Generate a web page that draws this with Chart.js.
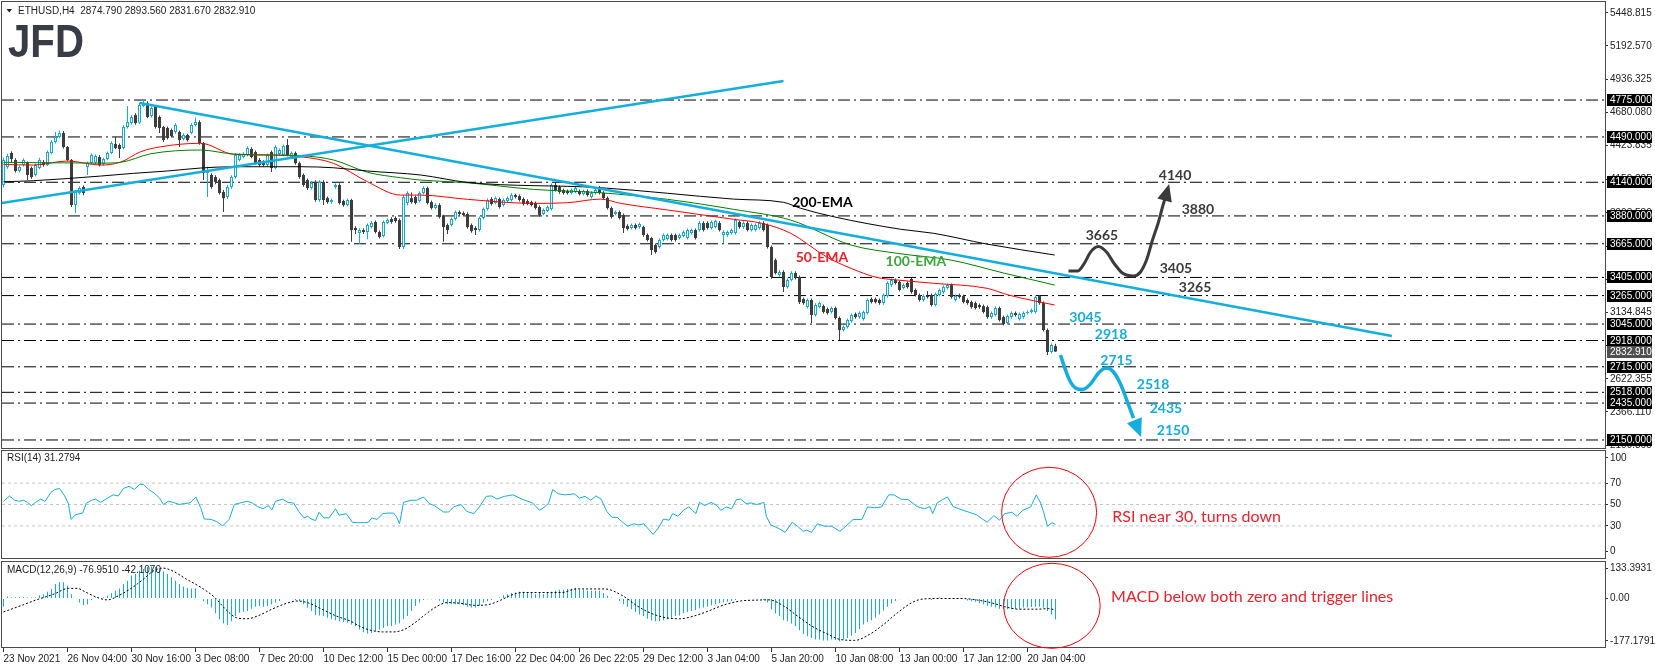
<!DOCTYPE html>
<html lang="en">
<head>
<meta charset="UTF-8" />
<title>ETHUSD H4</title>
<script src="https://cdn.jsdelivr.net/npm/chart.js@4"></script>
<style>
  html, body { margin: 0; padding: 0; background: #fff; }
  #board { position: relative; width: 1655px; height: 668px; overflow: hidden; background: #fff; }
  #board canvas { position: absolute; left: 0; }
</style>
</head>
<body>
<div id="board">
  <canvas id="priceChart" width="1655" height="450" style="top:0;width:1655px;height:450px"></canvas>
  <canvas id="rsiChart" width="1655" height="110" style="top:450px;width:1655px;height:110px"></canvas>
  <canvas id="macdChart" width="1655" height="108" style="top:560px;width:1655px;height:108px"></canvas>
</div>
<script>
// bar 0 = 23 Nov 2021 00:00, H4 bars, one date label every 16 bars
const dateLabels = ["23 Nov 2021", "26 Nov 04:00", "30 Nov 16:00", "3 Dec 08:00", "7 Dec 20:00",
  "10 Dec 12:00", "15 Dec 00:00", "17 Dec 16:00", "22 Dec 04:00", "26 Dec 22:05", "29 Dec 12:00",
  "3 Jan 04:00", "5 Jan 20:00", "10 Jan 08:00", "13 Jan 00:00", "17 Jan 12:00", "20 Jan 04:00"];

// [open, high, low, close]
const ohlc = [
[4119,4330,4100,4312],[4258,4360,4245,4343],[4366,4380,4288,4319],[4312,4325,4215,4227],[4227,4270,4215,4258],
[4273,4325,4262,4312],[4288,4300,4157,4196],[4250,4262,4168,4180],[4196,4285,4185,4273],[4250,4330,4240,4312],
[4296,4312,4260,4273],[4273,4385,4265,4373],[4366,4466,4355,4451],[4451,4528,4440,4489],[4489,4540,4480,4520],
[4520,4535,4400,4412],[4412,4420,4300,4312],[4312,4320,3949,3964],[3964,4080,3902,4065],[4057,4110,4045,4095],
[4103,4115,4040,4057],[4258,4300,4196,4288],[4288,4362,4280,4350],[4290,4355,4280,4343],[4335,4350,4262,4273],
[4281,4330,4270,4319],[4319,4378,4310,4366],[4366,4455,4358,4443],[4435,4489,4395,4404],[4428,4440,4327,4397],
[4404,4580,4395,4567],[4567,4729,4555,4605],[4597,4660,4585,4644],[4659,4672,4585,4597],[4600,4755,4590,4736],
[4729,4772,4720,4752],[4752,4765,4635,4644],[4651,4725,4640,4713],[4721,4730,4555,4567],[4644,4655,4520,4559],
[4567,4575,4450,4466],[4559,4570,4470,4482],[4543,4555,4485,4497],[4528,4595,4515,4582],[4528,4540,4412,4466],
[4474,4518,4462,4505],[4505,4515,4455,4466],[4520,4595,4510,4582],[4582,4640,4570,4605],[4605,4618,4430,4443],
[4443,4450,4157,4211],[4211,4260,4026,4234],[4196,4210,4090,4103],[4180,4195,4125,4142],[4157,4170,4045,4057],
[4065,4080,3910,4018],[4026,4118,4010,4103],[4103,4195,4090,4180],[4180,4365,4170,4350],[4312,4365,4300,4350],
[4335,4372,4325,4358],[4350,4418,4340,4404],[4397,4410,4325,4335],[4373,4385,4275,4288],[4312,4325,4260,4273],
[4296,4310,4260,4273],[4273,4362,4262,4350],[4373,4385,4219,4250],[4250,4425,4240,4412],[4358,4400,4345,4389],
[4350,4432,4340,4420],[4428,4474,4340,4350],[4335,4378,4325,4366],[4366,4378,4275,4288],[4288,4300,4168,4180],
[4196,4208,4105,4119],[4157,4170,4080,4095],[4095,4148,4085,4134],[4142,4155,3990,4003],[4003,4155,3990,4142],
[4142,4155,3964,4003],[4018,4030,3975,3987],[3987,4015,3975,4003],[4103,4130,4090,4119],[4119,4132,3968,3980],
[3995,4005,3950,3964],[3964,4015,3955,4003],[4003,4012,3680,3771],[3787,3800,3740,3771],[3748,3785,3663,3771],
[3771,3785,3740,3756],[3756,3822,3700,3810],[3795,3840,3785,3825],[3833,3845,3745,3756],[3756,3768,3705,3717],
[3725,3845,3715,3833],[3825,3862,3815,3848],[3856,3870,3820,3833],[3864,3878,3828,3840],[3848,3860,3625,3640],
[3640,4040,3625,4026],[3980,4070,3960,4057],[4018,4060,3975,3987],[4026,4038,3968,3980],[3995,4070,3985,4057],
[4057,4110,4045,4095],[4095,4108,3968,3980],[3987,4000,3930,3941],[3941,3978,3930,3964],[3964,3978,3860,3872],
[3879,3890,3680,3794],[3810,3822,3740,3771],[3810,3868,3800,3856],[3856,3922,3845,3910],[3910,3922,3885,3895],
[3902,3915,3875,3887],[3895,3908,3782,3794],[3810,3822,3750,3763],[3787,3800,3733,3771],[3771,3876,3760,3864],
[3864,3945,3852,3933],[3933,4015,3922,4003],[4011,4025,3960,3972],[3980,4030,3970,4018],[4011,4022,3938,3949],
[3964,4015,3952,4003],[3995,4030,3985,4018],[4003,4055,3992,4041],[4041,4052,4015,4026],[4033,4045,3992,4003],
[4011,4022,3960,3972],[3995,4008,3962,3972],[3987,3998,3952,3964],[3980,3992,3930,3941],[3949,3960,3875,3887],
[3895,3938,3885,3926],[3918,3960,3908,3949],[3933,4130,3922,4119],[4119,4134,4068,4080],[4103,4115,4052,4065],
[4080,4092,4045,4057],[4072,4085,4045,4057],[4057,4092,4045,4080],[4065,4108,4055,4095],[4072,4085,4038,4049],
[4049,4085,4038,4072],[4072,4085,4030,4041],[4026,4070,4015,4057],[4057,4092,4045,4080],[4095,4111,4045,4057],
[4057,4070,4008,4018],[4018,4030,3930,3941],[3941,3952,3860,3872],[3895,3922,3885,3910],[3910,3922,3852,3864],
[3887,3898,3748,3787],[3802,3815,3768,3779],[3787,3822,3775,3810],[3810,3822,3775,3787],[3794,3830,3782,3818],
[3794,3805,3720,3733],[3733,3745,3682,3694],[3709,3720,3578,3617],[3655,3668,3590,3601],[3640,3705,3628,3694],
[3694,3745,3682,3733],[3702,3745,3690,3733],[3733,3745,3682,3694],[3733,3745,3682,3694],[3709,3745,3698,3733],
[3725,3768,3715,3756],[3709,3783,3698,3771],[3748,3783,3737,3771],[3771,3783,3698,3709],[3771,3838,3760,3825],
[3825,3838,3760,3771],[3825,3838,3775,3787],[3787,3845,3775,3833],[3795,3852,3785,3840],[3825,3838,3760,3771],
[3733,3768,3670,3756],[3733,3768,3720,3756],[3748,3783,3737,3771],[3748,3860,3737,3848],[3833,3845,3782,3794],
[3794,3838,3782,3825],[3825,3838,3760,3771],[3771,3822,3760,3810],[3771,3822,3760,3810],[3787,3838,3775,3825],
[3825,3838,3760,3771],[3810,3822,3628,3640],[3640,3652,3395,3408],[3539,3552,3428,3439],[3424,3460,3412,3447],
[3447,3460,3292,3331],[3331,3398,3320,3385],[3385,3452,3375,3439],[3439,3452,3390,3401],[3408,3420,3200,3215],
[3238,3250,3195,3207],[3176,3243,3165,3231],[3231,3243,3053,3115],[3115,3205,3103,3192],[3176,3220,3165,3207],
[3184,3196,3126,3138],[3161,3173,3118,3130],[3138,3181,3126,3169],[3169,3181,3080,3092],[3092,3104,2922,2999],
[2999,3034,2987,3022],[3022,3088,3010,3076],[3068,3127,3056,3115],[3122,3134,3087,3099],[3099,3142,3087,3130],
[3084,3150,3072,3138],[3130,3243,3118,3231],[3238,3250,3203,3215],[3238,3250,3203,3215],[3231,3243,3195,3207],
[3207,3281,3195,3269],[3262,3374,3250,3362],[3346,3397,3334,3385],[3385,3397,3350,3362],[3370,3382,3296,3308],
[3323,3358,3311,3346],[3362,3374,3319,3331],[3393,3401,3280,3292],[3308,3320,3257,3269],[3269,3281,3219,3231],
[3231,3274,3219,3262],[3262,3300,3242,3254],[3269,3281,3180,3192],[3192,3289,3180,3277],[3269,3320,3257,3308],
[3292,3343,3280,3331],[3323,3358,3311,3346],[3346,3358,3242,3254],[3231,3274,3219,3262],[3269,3281,3242,3254],
[3262,3274,3203,3215],[3231,3243,3195,3207],[3215,3227,3164,3176],[3207,3219,3157,3169],[3192,3204,3164,3176],
[3184,3196,3126,3138],[3176,3188,3087,3099],[3099,3142,3087,3130],[3115,3181,3103,3169],[3169,3181,3064,3076],
[3099,3111,3033,3045],[3053,3119,3041,3107],[3099,3142,3087,3130],[3130,3142,3103,3115],[3084,3134,3072,3122],
[3099,3142,3087,3130],[3130,3150,3118,3138],[3138,3165,3126,3153],[3138,3266,3126,3254],[3262,3270,3195,3207],
[3207,3219,2987,2999],[2999,3011,2806,2829],[2829,2895,2817,2883],[2874.79,2893.56,2831.67,2832.91]
];

// moving averages: [bar, price]
const ema50 = [[0,4278],[7.5,4273],[16,4304],[24.3,4273],[29.3,4296],[34.3,4376],[39.3,4414],[49.3,4441],
  [57.5,4356],[66,4350],[74.3,4337],[82.5,4286],[91,4144],[99.3,4041],[104.3,4041],[116,4008],[132.5,3977],
  [141,3982],[149.3,4010],[154.3,3977],[166,3926],[182.5,3854],[189.6,3823],[196.8,3746],[205.7,3565],
  [211.9,3475],[218.2,3406],[223.5,3385],[232.5,3360],[245.9,3321],[251.3,3269],[262.8,3192]];
const ema100 = [[0,4294],[24.3,4288],[29.3,4294],[36.8,4360],[49.3,4389],[57.5,4358],[74.3,4345],[82.5,4312],
  [91,4217],[99.3,4175],[104.3,4157],[116,4136],[132.5,4085],[149.3,4059],[166,4008],[182.5,3931],[196.8,3848],
  [211.9,3655],[223.5,3591],[236.9,3539],[250.3,3437],[262.8,3346]];
const ema200 = [[0,4144],[7.5,4152],[24.3,4188],[32.5,4209],[41,4227],[49.3,4250],[57.5,4260],[74.3,4260],
  [82.5,4252],[91,4227],[104.3,4196],[116,4139],[149.3,4098],[166,4055],[182.5,4010],[195,3985],[199.3,3939],
  [207.5,3874],[224.3,3777],[232.5,3746],[245.8,3663],[262.8,3578]];

// horizontal support / resistance levels
const levels = [4775, 4490, 4140, 3880, 3665, 3405, 3265, 3045, 2918, 2715, 2518, 2435, 2150];
const lastPrice = 2832.910;
const priceTicks = [5448.815, 5192.570, 4936.325, 4680.080, 4423.835, 4159.825, 3903.580, 3647.335,
  3391.090, 3134.845, 2878.600, 2622.355, 2366.110, 2109.865];

// trendlines: [bar, price]
const risingLine = [[-0.4, 3980], [195, 4922]];
const fallingLine = [[34.1, 4752], [347.1, 2953]];

// projected paths
const bullPath = [[266.25,3454],[268.5,3454],[270.25,3516],[271.75,3601],[273.75,3644],[275.75,3601],
  [277.75,3509],[279.75,3439],[282.5,3416],[284.25,3447],[285.75,3539],[287.25,3694],[288.75,3833],
  [289.75,3949],[290.5,4026]];
const bullTip = [291.4, 4126];
const bearPath = [[264.25,2806],[265.25,2713],[266.5,2613],[268,2551],[269.75,2539],[271.75,2582],
  [273.75,2667],[275.75,2705],[277.5,2675],[279.25,2582],[281,2443],[282.5,2319]];
const bearTip = [284.4, 2173];

// target labels: [text, bar, price]
const upsideTargets = [["4140", 292.9, 4196], ["3880", 298.6, 3926], ["3665", 274.6, 3727],
  ["3405", 293.1, 3475], ["3265", 297.9, 3329]];
const downsideTargets = [["3045", 270.5, 3097], ["2918", 276.9, 2966], ["2715", 278.25, 2767],
  ["2518", 287.4, 2580], ["2435", 290.6, 2394], ["2150", 292.4, 2227]];
const emaTags = [["200-EMA", 204.75, 3987], ["100-EMA", 228.1, 3526], ["50-EMA", 204.6, 3557]];

// RSI(14): [bar, value]
const rsiPoints = [[0,53],[1.5,58],[2.8,54],[4,53],[5,54],[6,52],[7,49],[8,52],[9.3,55],[10.4,53],[11.8,61],
  [12.8,64],[14,65],[15.3,58],[16.2,51],[16.9,36],[18,40.5],[19.8,42],[20.7,51],[22,54],[23,55],[24.3,52],
  [26,56],[27.4,59],[28.7,58],[30,65],[31.4,67],[32.7,64],[34.1,69],[35.1,68.5],[36.3,64],[37.6,61],[39,56],
  [40,50],[41.2,53],[42.5,52],[43.9,50],[45.3,51],[46.6,51.4],[48.1,57],[49.3,47],[50.2,36.5],[51.9,36],
  [53.3,34],[54.8,30],[56.4,36],[57.7,50],[59.1,51.4],[60.9,53],[62.2,51.4],[63.5,48],[64.9,46],[66.2,49],
  [67.1,45],[68,53],[69.8,55],[71.1,52],[72.5,51.4],[73.8,43.6],[75.1,37.5],[76,39],[76.9,36.5],[78,35],
  [78.9,42.7],[80.1,37.5],[81.4,37.5],[83,46],[83.9,40],[85.7,41.5],[87.2,33.4],[88.5,33],[90.3,33],
  [91.2,33.4],[92.1,37.5],[93.4,36],[94.8,41.5],[96.1,42],[97.5,42],[98.2,39],[99,32],[100,52],[101.9,54],
  [103.3,54],[105,57],[106.4,51],[107.7,49],[110,43],[111.3,43],[112.6,48],[114.4,50],[115.8,43.6],
  [117.6,41.5],[119,48],[120.7,57.6],[122,58],[123.4,55],[125.2,57.6],[127.4,59],[129.6,55],[132.3,51.4],
  [134,44.6],[135.4,48],[136.3,51.4],[137.3,64],[138.7,60],[140.5,59],[142.7,60],[144,56],[145.4,57.6],
  [146.8,54],[148.1,58],[149.4,55],[150.8,43.6],[152.1,38],[153.4,38],[154.8,33.4],[156.1,29.7],[157.5,32],
  [158.8,31],[160.1,32],[161,28],[162.4,22],[163.7,28],[165,36.5],[166.4,35.3],[167.3,41.5],[168.6,39],
  [170,44.6],[171.3,47.7],[172.2,44.6],[173.1,41.5],[174,52],[175.3,49],[176.9,52],[178.4,49],[179.3,44.6],
  [180.7,47.7],[182,46],[183.2,54.5],[184.3,55],[185.6,51],[186.9,51.4],[188.3,50],[190.1,52],[190.7,39],
  [191.8,31],[193.6,28],[195.4,24],[197.2,33.4],[198.5,29.7],[199.9,25],[200.8,26],[202,24],[203.5,32],
  [205.2,29.7],[207,29.7],[209.1,25],[210.6,29.7],[212.4,36],[214.6,36],[216,47.7],[217.7,47],[219.5,47.7],
  [221.3,59],[222.6,59],[224.4,55],[226.2,54.5],[228.4,48],[230.3,46],[231.6,48],[232.3,41.5],[233.4,51.4],
  [234.7,54.5],[236,57],[237.4,48],[239.6,45],[243.2,40.5],[245.9,33.4],[247.6,39.6],[249,35.3],[250.3,41.5],
  [252.1,42.7],[253.4,39],[254.8,44.6],[256.8,47.7],[258.2,59],[259.3,51.4],[260.1,42],[261,29.7],[262.1,33],
  [263,31.3]];
const rsiLevels = [70, 50, 30];
const rsiAxis = [0, 30, 50, 70, 100];

// MACD(12,26,9): main line as histogram (one value per bar), signal as dotted line
const macdHist = [
-30,7,4,5,5,5,4,4,4,12, 16,25,35,53,59,59,47,16,-2,-15, -25,-21,-6,4,0,5,10,20,28,37,
53,65,84,90,102,108,115,117,115,108, 100,90,78,65,53,44,38,37,37,2, -10,-21,-33,-54,-76,-91,-97,-83,-64,-52,
-48,-46,-37,-30,-27,-30,-27,-21,-15,-9, -2,0,-2,-5,-9,-21,-33,-46,-60,-62, -64,-70,-76,-79,-83,-86,-89,-95,-101,-113,
-123,-128,-126,-120,-113,-107,-101,-101,-95,-90, -76,-64,-46,-27,-15,-5,-3,-3,-3,-8, -15,-21,-21,-21,-21,-25,-30,-33,-33,-27,
-15,-10,-5,0,4,12,16,20,22,25, 25,22,22,16,20,16,22,25,28,32, 32,35,37,39,32,32,28,28,28,28,
20,10,4,0,-9,-21,-30,-39,-49,-58, -64,-74,-80,-83,-83,-79,-76,-70,-64,-62, -54,-49,-46,-42,-36,-33,-30,-25,-21,-17,
-15,-12,-9,-5,-2,-2,-2,-2,0,-2, -5,-15,-40,-55,-64,-79,-83,-91,-101,-116, -130,-138,-144,-150,-150,-153,-153,-150,-152,-156,
-150,-144,-136,-126,-111,-95,-86,-79,-70,-58, -45,-30,-18,-9,-3,-2,1,-2,-2,0, -2,0,-5,2,4,2,0,0,0,-2,
-3,-7,-10,-12,-17,-21,-27,-30,-33,-37, -39,-39,-39,-37,-37,-33,-33,-31,-30,-30, -33,-46,-58,-77];
const macdSignal = [[0,-49],[4.2,-27],[8.2,-5],[12.6,16],[16.2,37],[18.4,37],[20.7,22],[23.4,4],[26,-5],
  [28.7,10],[32.3,41],[35,71],[37.6,102],[39.9,111],[42.1,102],[45.7,71],[49.3,41],[52.8,4],[55.5,-39],
  [58.2,-70],[60.9,-74],[63.5,-64],[67.1,-39],[70.7,-18],[73.4,-9],[76,-15],[79.6,-39],[83.2,-64],[86.8,-83],
  [89.4,-104],[92.1,-117],[94.8,-122],[97.5,-122],[100.2,-113],[102.8,-89],[105.5,-58],[108.2,-30],
  [110.9,-15],[114.4,-18],[118,-25],[121.6,-21],[124.3,-6],[126.9,12],[129.6,22],[133.2,22],[136.8,22],
  [139.6,22],[143.2,35],[150.3,35],[154.8,10],[158.4,-27],[161.9,-54],[165.5,-70],[169.1,-74],[172.6,-64],
  [176.2,-46],[179.8,-25],[184.3,-9],[187.8,-6],[191.4,-5],[195,-27],[198.5,-64],[202.1,-101],[205.7,-128],
  [209.3,-150],[212.8,-153],[216.4,-132],[220,-95],[223.5,-52],[227.1,-15],[229.8,-2],[234.3,0],[239.6,0],
  [243.2,-5],[246.8,-15],[250.3,-30],[253.9,-39],[258.4,-39],[261.2,-37],[263,-42.1]];
const macdMin = -177.1791, macdMax = 133.3931;

// ---- drawing ----
Chart.defaults.font.family = '"Liberation Sans", Arial, sans-serif';
Chart.defaults.font.size = 10;
Chart.defaults.color = '#222';

const CYAN = '#13aedd';
const DARK = '#3d3d3d';
const RED = '#f0202a';
const X_MIN = -0.375, X_MAX = 400.375;

const pts = list => list.map(([x, y]) => ({ x, y }));
const fixRightAxis = s => { s.width = 50; s.paddingTop = 0; s.paddingBottom = 0; };
const flatLine = v => pts([[X_MIN, v], [X_MAX, v]]);

const framePlugin = {
  id: 'frame',
  afterDraw(chart) {
    const { ctx, chartArea: a } = chart;
    ctx.save();
    ctx.strokeStyle = '#4a4a4a';
    ctx.lineWidth = 1;
    ctx.strokeRect(a.left - 0.5, a.top - 0.5, a.right - a.left + 1, a.bottom - a.top + 1);
    ctx.restore();
  }
};

function arrowHead(ctx, px, py, tip, from, color, len, half) {
  const tx = px(tip[0]), ty = py(tip[1]);
  const fx = px(from[0]), fy = py(from[1]);
  const a = Math.atan2(ty - fy, tx - fx);
  const bx = tx - len * Math.cos(a), by = ty - len * Math.sin(a);
  ctx.fillStyle = color;
  ctx.beginPath();
  ctx.moveTo(tx, ty);
  ctx.lineTo(bx - half * Math.sin(a), by + half * Math.cos(a));
  ctx.lineTo(bx + half * Math.sin(a), by - half * Math.cos(a));
  ctx.closePath();
  ctx.fill();
}

const priceOverlay = {
  id: 'priceOverlay',
  afterDatasetsDraw(chart) {
    const { ctx, scales: { x, y } } = chart;
    const px = v => x.getPixelForValue(v), py = v => y.getPixelForValue(v);
    ctx.save();
    arrowHead(ctx, px, py, bullTip, bullPath[bullPath.length - 1], '#3b3b3b', 17, 7.5);
    arrowHead(ctx, px, py, bearTip, bearPath[bearPath.length - 1], CYAN, 18, 8);

    ctx.font = 'bold 14px Lato, sans-serif';
    ctx.textAlign = 'center';
    ctx.textBaseline = 'middle';
    ctx.fillStyle = '#3a3a3a';
    upsideTargets.forEach(([t, b, p]) => ctx.fillText(t, px(b), py(p)));
    ctx.fillStyle = CYAN;
    downsideTargets.forEach(([t, b, p]) => ctx.fillText(t, px(b), py(p)));

    const tagColors = ['#000000', '#3aa83a', '#f0202a'];
    emaTags.forEach(([t, b, p], k) => {
      ctx.fillStyle = tagColors[k];
      ctx.fillText(t, px(b), py(p));
    });
    ctx.restore();
  },
  afterDraw(chart) {
    const { ctx, chartArea: a, scales: { y } } = chart;
    ctx.save();
    // level boxes on the price axis
    ctx.font = '10px "Liberation Sans", Arial, sans-serif';
    ctx.textAlign = 'left';
    ctx.textBaseline = 'middle';
    const box = (v, bg) => {
      const yy = Math.round(y.getPixelForValue(v));
      ctx.fillStyle = bg;
      ctx.fillRect(a.right + 2, yy - 6, 45, 12);
      ctx.fillStyle = '#fff';
      ctx.fillText(v.toFixed(3), a.right + 5, yy);
    };
    levels.forEach(v => box(v, '#000'));
    box(lastPrice, '#505050');

    // symbol header
    ctx.fillStyle = '#222';
    ctx.beginPath();
    ctx.moveTo(6.5, 9); ctx.lineTo(12, 9); ctx.lineTo(9.25, 12.5); ctx.closePath();
    ctx.fill();
    ctx.fillText('ETHUSD,H4  2874.790 2893.560 2831.670 2832.910', 18, 11);

    // logo
    ctx.font = 'bold 47px "Liberation Sans", Arial, sans-serif';
    ctx.textBaseline = 'alphabetic';
    ctx.fillStyle = '#383c45';
    ctx.fillText('JFD', 8, 57, 76);
    ctx.restore();
  }
};

const up = ohlc.map(c => c[3] >= c[0]);

new Chart(document.getElementById('priceChart'), {
  type: 'bar',
  data: {
    datasets: [
      ...levels.map(v => ({
        type: 'line', data: flatLine(v), borderColor: '#000', borderWidth: 1,
        borderDash: [12, 4, 2, 4], pointRadius: 0, order: 10
      })),
      {
        type: 'bar', data: ohlc.map((c, i) => ({ x: i, y: [c[2], c[1]] })),
        backgroundColor: up.map(u => u ? CYAN : DARK),
        barThickness: 1, grouped: false, inflateAmount: 0, order: 8
      },
      {
        type: 'bar', data: ohlc.map((c, i) => ({ x: i, y: [c[0], c[3]] })),
        backgroundColor: up.map(u => u ? '#fff' : DARK),
        borderColor: up.map(u => u ? CYAN : DARK),
        borderWidth: up.map(u => u ? 1 : 0), borderSkipped: false,
        barThickness: 3, grouped: false, inflateAmount: 0, minBarLength: 1, order: 7
      },
      { type: 'line', data: pts(ema200), borderColor: '#000', borderWidth: 1, pointRadius: 0, cubicInterpolationMode: 'monotone', order: 5 },
      { type: 'line', data: pts(ema100), borderColor: '#008000', borderWidth: 1, pointRadius: 0, cubicInterpolationMode: 'monotone', order: 5 },
      { type: 'line', data: pts(ema50), borderColor: '#ff0000', borderWidth: 1, pointRadius: 0, cubicInterpolationMode: 'monotone', order: 5 },
      { type: 'line', data: pts(risingLine), borderColor: CYAN, borderWidth: 2.5, pointRadius: 0, order: 3 },
      { type: 'line', data: pts(fallingLine), borderColor: CYAN, borderWidth: 2.5, pointRadius: 0, order: 3 },
      { type: 'line', data: pts(bullPath), borderColor: '#3b3b3b', borderWidth: 3, pointRadius: 0, cubicInterpolationMode: 'monotone', order: 1 },
      { type: 'line', data: pts(bearPath), borderColor: CYAN, borderWidth: 3.5, pointRadius: 0, cubicInterpolationMode: 'monotone', order: 1 }
    ]
  },
  options: {
    responsive: false, animation: false, events: [],
    layout: { padding: { left: 2, top: 2, right: 0, bottom: 2 } },
    plugins: { legend: { display: false }, tooltip: { enabled: false } },
    scales: {
      x: { type: 'linear', min: X_MIN, max: X_MAX, offset: false, display: false, grid: { offset: false } },
      y: {
        type: 'linear', position: 'right', min: 2088, max: 5532,
        afterFit: fixRightAxis,
        afterBuildTicks: s => { s.ticks = priceTicks.map(v => ({ value: v })); },
        ticks: { autoSkip: false, padding: 2, color: '#222', callback: v => v.toFixed(3) },
        grid: { drawOnChartArea: false, drawTicks: true, tickLength: 3, color: '#333' },
        border: { display: false }
      }
    }
  },
  plugins: [framePlugin, priceOverlay]
});

const rsiOverlay = {
  id: 'rsiOverlay',
  afterDraw(chart) {
    const { ctx, scales: { x, y } } = chart;
    ctx.save();
    ctx.font = '10px "Liberation Sans", Arial, sans-serif';
    ctx.textAlign = 'left';
    ctx.textBaseline = 'middle';
    ctx.fillStyle = '#222';
    ctx.fillText('RSI(14) 31.2794', 7, 8);
    ctx.strokeStyle = '#ff0000';
    ctx.lineWidth = 1;
    ctx.beginPath();
    ctx.ellipse(x.getPixelForValue(261.4), y.getPixelForValue(42.7), 47.5, 45, 0, 0, Math.PI * 2);
    ctx.stroke();
    ctx.font = '16px Lato, sans-serif';
    ctx.fillStyle = RED;
    ctx.fillText('RSI near 30, turns down', x.getPixelForValue(277.2), y.getPixelForValue(38));
    ctx.restore();
  }
};

new Chart(document.getElementById('rsiChart'), {
  type: 'line',
  data: {
    datasets: [
      ...rsiLevels.map(v => ({
        data: flatLine(v), borderColor: '#c4c4c4', borderWidth: 1, borderDash: [3, 3], pointRadius: 0, order: 5
      })),
      { data: pts(rsiPoints), borderColor: CYAN, borderWidth: 1, pointRadius: 0, order: 1 }
    ]
  },
  options: {
    responsive: false, animation: false, events: [],
    layout: { padding: { left: 2, top: 1, right: 0, bottom: 2 } },
    plugins: { legend: { display: false }, tooltip: { enabled: false } },
    scales: {
      x: { type: 'linear', min: X_MIN, max: X_MAX, display: false },
      y: {
        position: 'right', min: 0, max: 100,
        afterFit: fixRightAxis,
        afterBuildTicks: s => { s.ticks = rsiAxis.map(v => ({ value: v === 100 ? 93.5 : v === 0 ? 6 : v })); },
        ticks: { autoSkip: false, padding: 2, color: '#222', callback: (v, i) => String(rsiAxis[i]) },
        grid: { drawOnChartArea: false, tickLength: 3, color: '#333' },
        border: { display: false }
      }
    }
  },
  plugins: [framePlugin, rsiOverlay]
});

const macdOverlay = {
  id: 'macdOverlay',
  afterDraw(chart) {
    const { ctx, scales: { x, y } } = chart;
    ctx.save();
    ctx.font = '10px "Liberation Sans", Arial, sans-serif';
    ctx.textAlign = 'left';
    ctx.textBaseline = 'middle';
    ctx.fillStyle = '#222';
    ctx.fillText('MACD(12,26,9) -76.9510 -42.1070', 7, 10);
    ctx.strokeStyle = '#ff0000';
    ctx.lineWidth = 1;
    ctx.beginPath();
    ctx.ellipse(x.getPixelForValue(262.1), y.getPixelForValue(-26.6), 48.3, 42.5, 0, 0, Math.PI * 2);
    ctx.stroke();
    ctx.font = '16px Lato, sans-serif';
    ctx.fillStyle = RED;
    ctx.fillText('MACD below both zero and trigger lines', x.getPixelForValue(276.9), y.getPixelForValue(4.4));
    ctx.restore();
  }
};

const macdAxis = [macdMin, 0, macdMax];
new Chart(document.getElementById('macdChart'), {
  type: 'bar',
  data: {
    datasets: [
      { type: 'line', data: pts(macdSignal), borderColor: '#000', borderWidth: 1, borderDash: [2, 2], pointRadius: 0, cubicInterpolationMode: 'monotone', order: 1 },
      { type: 'bar', data: macdHist.map((v, i) => ({ x: i, y: v })), backgroundColor: CYAN, barThickness: 1, grouped: false, inflateAmount: 0, order: 2 }
    ]
  },
  options: {
    responsive: false, animation: false, events: [],
    layout: { padding: { left: 2, top: 2, right: 0, bottom: 0 } },
    plugins: { legend: { display: false }, tooltip: { enabled: false } },
    scales: {
      x: {
        type: 'linear', min: X_MIN, max: X_MAX, offset: false, position: 'bottom',
        afterBuildTicks: s => { s.ticks = dateLabels.map((_, k) => ({ value: k * 16 })); },
        afterFit: s => { s.height = 21; s.paddingLeft = 0; s.paddingRight = 0; },
        ticks: { autoSkip: false, maxRotation: 0, minRotation: 0, align: 'start', padding: 1, color: '#222', callback: (v, i) => dateLabels[i] },
        grid: { drawOnChartArea: false, tickLength: 5, color: '#333', offset: false },
        border: { display: false }
      },
      y: {
        position: 'right', min: macdMin, max: macdMax,
        afterFit: fixRightAxis,
        afterBuildTicks: s => { s.ticks = [{ value: -155 }, { value: 0 }, { value: 111 }]; },
        ticks: { autoSkip: false, padding: 2, color: '#222', callback: (v, i) => i === 1 ? '0.00' : macdAxis[i].toFixed(4) },
        grid: { drawOnChartArea: false, tickLength: 3, color: '#333' },
        border: { display: false }
      }
    }
  },
  plugins: [framePlugin, macdOverlay]
});
</script>
</body>
</html>
